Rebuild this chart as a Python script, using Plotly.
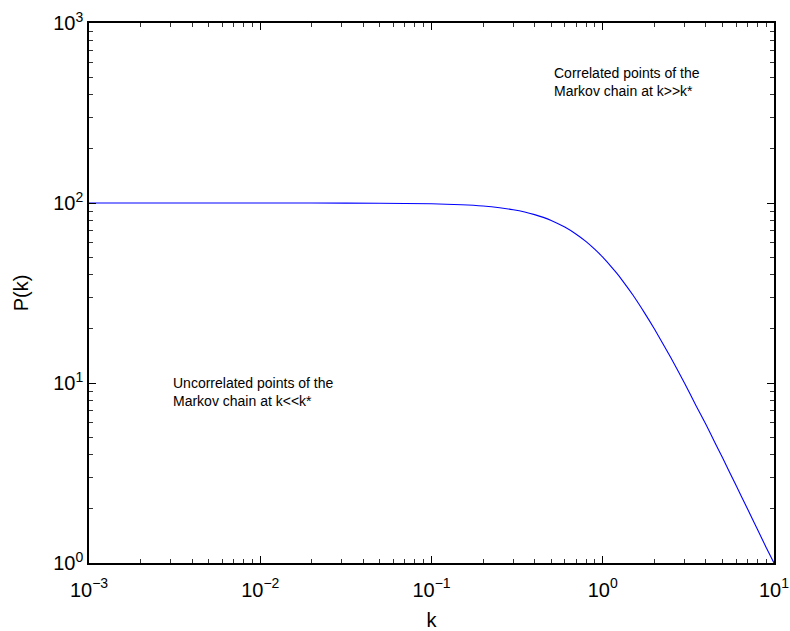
import plotly.graph_objects as go

# values
k_vals = [0.001, 0.002, 0.005, 0.01, 0.02, 0.05, 0.1, 0.15, 0.2, 0.25, 0.3, 0.35, 0.4,
          0.45, 0.5, 0.6, 0.7, 0.8, 0.9, 1.0, 1.1, 1.2, 1.3, 1.5, 1.75, 2.0, 2.5,
          3.0, 3.5, 4.0, 4.5, 5.0, 6.0, 7.0, 8.0, 9.0, 10.0]
p_vals = [100, 100, 100, 99.99, 99.96, 99.75, 99.0, 97.8, 96.2, 94.1, 91.7, 89.1, 86.2,
          83.2, 80.0, 73.5, 67.1, 61.0, 55.2, 50.0, 45.2, 41.0, 37.2, 30.8, 24.6, 20.0, 13.8,
          10.0, 7.5, 5.9, 4.7, 3.85, 2.7, 2.0, 1.54, 1.22, 1.0]

x_tick_vals = [0.001, 0.01, 0.1, 1, 10]
x_tick_text = ["10<sup>−3</sup>", "10<sup>−2</sup>", "10<sup>−1</sup>", "10<sup>0</sup>", "10<sup>1</sup>"]
y_tick_vals = [1, 10, 100, 1000]
y_tick_text = ["10<sup>0</sup>", "10<sup>1</sup>", "10<sup>2</sup>", "10<sup>3</sup>"]

x_label = "k"
y_label = "P(k)"
note_low = "Uncorrelated points of the<br>Markov chain at k<<k*"
note_high = "Correlated points of the<br>Markov chain at k>>k*"

FONT = "Liberation Sans, Arial, Helvetica, sans-serif"

fig = go.Figure()
fig.add_trace(go.Scatter(x=k_vals, y=p_vals, mode="lines",
                         line=dict(color="#0000ff", width=1.1, shape="spline", smoothing=0.6),
                         showlegend=False, hoverinfo="skip"))

axis_common = dict(
    type="log", showgrid=False, zeroline=False, showline=True, linecolor="black", linewidth=1.5,
    mirror="allticks", ticks="inside", ticklen=7, tickwidth=1, tickcolor="black", automargin=False,
    tickfont=dict(family=FONT, size=20, color="black"),
    minor=dict(ticks="inside", ticklen=4, tickwidth=1, tickcolor="#333333", dtick="D1", showgrid=False),
)

fig.update_xaxes(range=[-3, 1], tickmode="array", tickvals=x_tick_vals, ticktext=x_tick_text,
                 ticklabelstandoff=8,
                 title=dict(text=x_label, font=dict(family=FONT, size=20, color="black"), standoff=16),
                 **axis_common)
fig.update_yaxes(range=[0, 3], tickmode="array", tickvals=y_tick_vals, ticktext=y_tick_text,
                 title=dict(text=y_label, font=dict(family=FONT, size=20, color="black"), standoff=19),
                 **axis_common)

ann_font = dict(family=FONT, size=14, color="black")
fig.add_annotation(x=-2.515, y=0.952, xref="x", yref="y", text=note_low, showarrow=False,
                   xanchor="left", yanchor="middle", align="left", font=ann_font, borderpad=0)
fig.add_annotation(x=-0.2905, y=2.674, xref="x", yref="y", text=note_high, showarrow=False,
                   xanchor="left", yanchor="middle", align="left", font=ann_font, borderpad=0)

fig.update_layout(width=790, height=631, margin=dict(l=89, r=16, t=23, b=68, autoexpand=False),
                  paper_bgcolor="white", plot_bgcolor="white", font=dict(family=FONT))

fig.write_html("out.html")
